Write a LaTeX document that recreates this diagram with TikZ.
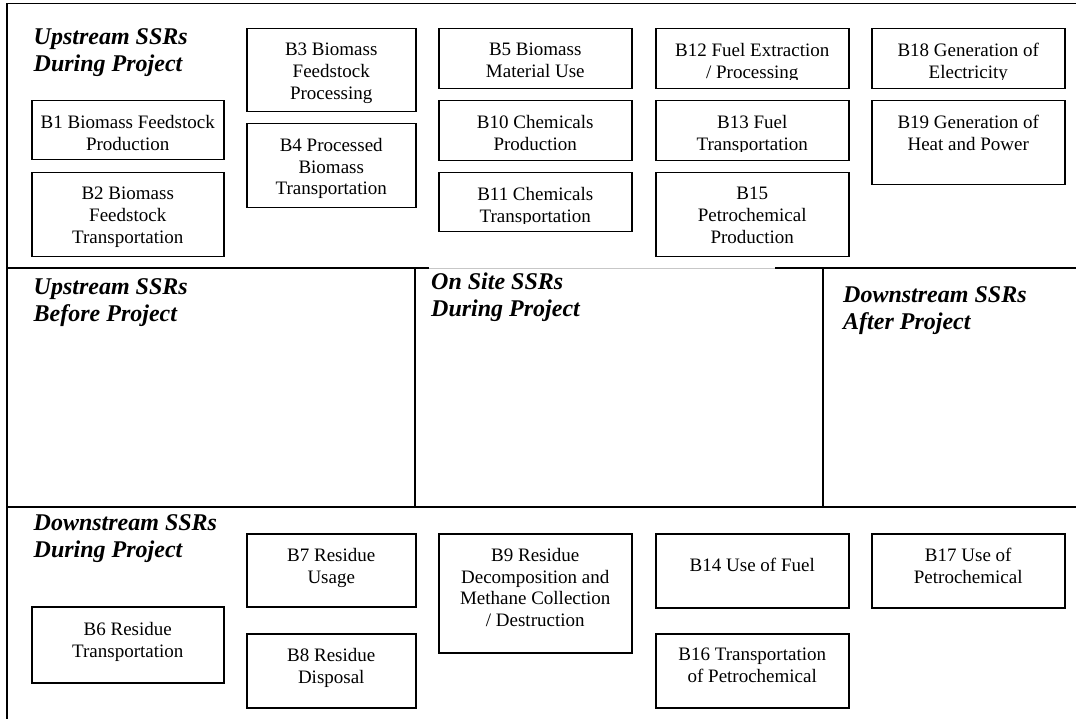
\documentclass[tikz,border=0pt]{standalone}
\usepackage{fontspec}
\setmainfont{Liberation Serif}
\begin{document}
\begin{tikzpicture}[x=1pt,y=-1pt,
  box/.style={draw=black, line width=1.5pt, inner sep=0pt, anchor=north west, fill=none},
  btxt/.style={font=\fontsize{19}{21.8}\selectfont, align=center, anchor=north, inner sep=0pt},
  head/.style={font=\fontsize{24}{27}\selectfont\bfseries\itshape, align=left, anchor=north west, inner sep=0pt},
  rulel/.style={line width=1.8pt, draw=black},
  faint/.style={line width=0.9pt, draw=black!22}]
\useasboundingbox (0,0) rectangle (1076,719);
% frame and section lines
\coordinate (tl) at (7,3.5);
\coordinate (tr) at (1076,3.5);
\coordinate (bl) at (7,719);
\coordinate (m1) at (7,268);
\coordinate (m2) at (429,268);
\coordinate (m3) at (775,268);
\coordinate (m4) at (1076,268);
\coordinate (n1) at (7,507);
\coordinate (n2) at (1076,507);
\coordinate (v1t) at (415,268);
\coordinate (v1b) at (415,507);
\coordinate (v2t) at (823,268);
\coordinate (v2b) at (823,507);
\draw[rulel] (tr) -- (tl) -- (bl);
\draw[rulel] (m1) -- (m2);
\draw[faint] (m2) -- (m3);
\draw[rulel] (m3) -- (m4);
\draw[rulel] (n1) -- (n2);
\draw[rulel] (v1t) -- (v1b);
\draw[rulel] (v2t) -- (v2b);

% headings
\node[head] (hud) at (33.5,28) {Upstream SSRs\\During Project};
\node[head] (hub) at (33.5,278) {Upstream SSRs\\Before Project};
\node[head] (hos) at (431,272.5) {On Site SSRs\\During Project};
\node[head] (hda) at (843,286) {Downstream SSRs\\After Project};
\node[head] (hdd) at (33.5,514) {Downstream SSRs\\During Project};

% boxes, upstream during project
\node[box, minimum width=192, minimum height=59] (b1) at (31,100) {};
\node[box, minimum width=192, minimum height=84] (b2) at (31,172) {};
\node[box, minimum width=169, minimum height=83] (b3) at (246,28) {};
\node[box, minimum width=169, minimum height=84] (b4) at (246,123) {};
\node[box, minimum width=193, minimum height=60] (b5) at (438,28) {};
\node[box, minimum width=193, minimum height=60] (b10) at (438,100) {};
\node[box, minimum width=193, minimum height=59] (b11) at (438,172) {};
\node[box, minimum width=193, minimum height=60] (b12) at (655,28) {};
\node[box, minimum width=193, minimum height=60] (b13) at (655,100) {};
\node[box, minimum width=193, minimum height=84] (b15) at (655,172) {};
\node[box, minimum width=193, minimum height=60] (b18) at (871,28) {};
\node[box, minimum width=193, minimum height=84] (b19) at (871,100) {};
% boxes, downstream during project
\node[box, minimum width=192, minimum height=76] (b6) at (31,606) {};
\node[box, minimum width=169, minimum height=73] (b7) at (246,533) {};
\node[box, minimum width=169, minimum height=74] (b8) at (246,633) {};
\node[box, minimum width=193, minimum height=119] (b9) at (438,533) {};
\node[box, minimum width=193, minimum height=74] (b14) at (655,533) {};
\node[box, minimum width=193, minimum height=74] (b16) at (655,633) {};
\node[box, minimum width=193, minimum height=74] (b17) at (871,533) {};

% box texts
\node[btxt] (t1) at ([yshift=-15pt]b1.north) {B1 Biomass Feedstock\\Production};
\node[btxt] (t2) at ([yshift=-15pt]b2.north) {B2 Biomass\\Feedstock\\Transportation};
\node[btxt] (t3) at ([yshift=-15pt]b3.north) {B3 Biomass\\Feedstock\\Processing};
\node[btxt] (t4) at ([yshift=-15pt]b4.north) {B4 Processed\\Biomass\\Transportation};
\node[btxt] (t5) at ([yshift=-15pt]b5.north) {B5 Biomass\\Material Use};
\node[btxt] (t10) at ([yshift=-15pt]b10.north) {B10 Chemicals\\Production};
\begin{scope}
\clip ([yshift=-0.8pt]b11.north west) rectangle ([yshift=-52pt]b11.north east);
\node[btxt] (t11) at ([yshift=-15pt]b11.north) {B11 Chemicals\\Transportation};
\end{scope}
\begin{scope}
\clip ([yshift=-0.8pt]b12.north west) rectangle ([yshift=-52pt]b12.north east);
\node[btxt] (t12) at ([yshift=-15pt]b12.north) {B12 Fuel Extraction\\/ Processing};
\end{scope}
\begin{scope}
\clip ([yshift=-0.8pt]b13.north west) rectangle ([yshift=-52pt]b13.north east);
\node[btxt] (t13) at ([yshift=-15pt]b13.north) {B13 Fuel\\Transportation};
\end{scope}
\node[btxt] (t15) at ([yshift=-15pt]b15.north) {B15\\Petrochemical\\Production};
\begin{scope}
\clip ([yshift=-0.8pt]b18.north west) rectangle ([yshift=-52pt]b18.north east);
\node[btxt] (t18) at ([yshift=-15pt]b18.north) {B18 Generation of\\Electricity};
\end{scope}
\node[btxt] (t19) at ([yshift=-15pt]b19.north) {B19 Generation of\\Heat and Power};
\node[btxt] (t6) at ([yshift=-16pt]b6.north) {B6 Residue\\Transportation};
\node[btxt] (t7) at ([yshift=-15pt]b7.north) {B7 Residue\\Usage};
\node[btxt] (t8) at ([yshift=-15pt]b8.north) {B8 Residue\\Disposal};
\node[btxt] (t9) at ([yshift=-15pt]b9.north) {B9 Residue\\Decomposition and\\Methane Collection\\/ Destruction};
\node[btxt] (t14) at ([yshift=-25pt]b14.north) {B14 Use of Fuel};
\node[btxt] (t16) at ([yshift=-15pt]b16.north) {B16 Transportation\\of Petrochemical};
\node[btxt] (t17) at ([yshift=-15pt]b17.north) {B17 Use of\\Petrochemical};
\end{tikzpicture}
\end{document}
